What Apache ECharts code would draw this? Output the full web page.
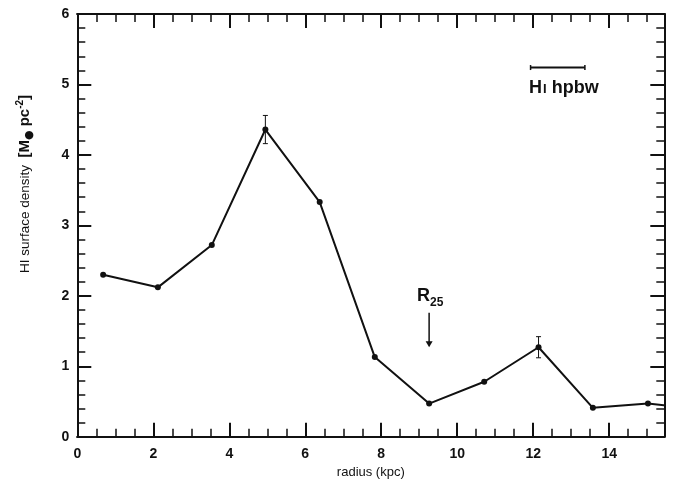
<!DOCTYPE html>
<html>
<head>
<meta charset="utf-8">
<script src="https://cdn.jsdelivr.net/npm/echarts@6/dist/echarts.min.js"></script>
<style>
  html, body { margin: 0; padding: 0; background: #fff; }
  #chart { width: 675px; height: 481px; }
</style>
</head>
<body>
<div id="chart"></div>
<script>
// HI surface density profile against galactocentric radius
const radius  = [0.68, 2.12, 3.54, 4.95, 6.38, 7.83, 9.26, 10.71, 12.14, 13.57, 15.02, 16.45];
const density = [2.30, 2.12, 2.72, 4.36, 3.33, 1.13, 0.47, 0.78, 1.27, 0.41, 0.47, 0.39];

// error bars: [radius, density, half-width]
const errorBars = [[4.95, 4.36, 0.20], [12.14, 1.27, 0.15]];

// beam width bar: [start radius, end radius, level]
const beamBar = [[11.93, 13.36, 5.24]];
// R25 marker: [radius, arrow top, arrow tip]
const r25Marker = [[9.26, 1.76, 1.27]];

const xTicks = [0, 2, 4, 6, 8, 10, 12, 14];
const yTicks = [0, 1, 2, 3, 4, 5, 6];

const X_MAX = 15.45, Y_MAX = 6;
const INK = '#111';
const SANS = 'Liberation Sans, Arial, sans-serif';
const labelFont = { color: INK, fontFamily: SANS, fontWeight: 'bold', fontSize: 14 };

function xAxisDef(position, interval, tickLen, major) {
  return {
    type: 'value', position: position, min: 0, max: X_MAX, interval: interval,
    axisLine: { show: true, onZero: false, lineStyle: { color: INK, width: 2 } },
    axisTick: { show: true, inside: true, length: tickLen, lineStyle: { color: INK, width: major ? 2 : 1.5 } },
    axisLabel: (position === 'bottom' && major) ? Object.assign({
      show: true, margin: 10, showMaxLabel: false,
      formatter: v => xTicks.indexOf(v) >= 0 ? String(v) : ''
    }, labelFont) : { show: false },
    splitLine: { show: false },
    name: (position === 'bottom' && major) ? 'radius (kpc)' : '',
    nameLocation: 'middle', nameGap: 21,
    nameTextStyle: { color: INK, fontFamily: SANS, fontSize: 13 }
  };
}

function yAxisDef(position, showLabel) {
  return {
    type: 'value', position: position, min: 0, max: Y_MAX, interval: 1,
    axisLine: { show: true, onZero: false, lineStyle: { color: INK, width: 2 } },
    axisTick: { show: true, inside: true, length: 14, lineStyle: { color: INK, width: 2 } },
    minorTick: { show: true, splitNumber: 5, length: 8, lineStyle: { color: INK, width: 1.5 } },
    axisLabel: showLabel ? Object.assign({
      show: true, margin: 8,
      formatter: v => yTicks.indexOf(v) >= 0 ? String(v) : ''
    }, labelFont) : { show: false },
    splitLine: { show: false }
  };
}

const chart = echarts.init(document.getElementById('chart'), null, { renderer: 'canvas' });

chart.setOption({
  animation: false,
  backgroundColor: '#fff',
  grid: { left: 77.3, right: 10.7, top: 14, bottom: 44.3, containLabel: false, outerBoundsMode: 'none' },
  xAxis: [
    xAxisDef('bottom', 2, 14, true),
    xAxisDef('bottom', 0.5, 8, false),
    xAxisDef('top', 2, 14, true),
    xAxisDef('top', 0.5, 8, false)
  ],
  yAxis: [
    yAxisDef('left', true),
    yAxisDef('right', false)
  ],
  graphic: [{
    type: 'text',
    x: 25, y: 184,
    rotation: Math.PI / 2,
    style: {
      text: '{n|HI surface density  }{b|[M}{s|●}{b| pc}{p|-2}{b|]}',
      align: 'center', verticalAlign: 'middle',
      fill: INK,
      rich: {
        n: { fontFamily: SANS, fontSize: 13.5, fill: INK, lineHeight: 20, verticalAlign: 'middle' },
        b: { fontFamily: SANS, fontSize: 15, fontWeight: 'bold', fill: INK, lineHeight: 20, verticalAlign: 'middle' },
        s: { fontFamily: 'DejaVu Sans, sans-serif', fontSize: 11, fill: INK, lineHeight: 20, verticalAlign: 'bottom' },
        p: { fontFamily: SANS, fontSize: 10, fontWeight: 'bold', fill: INK, lineHeight: 20, verticalAlign: 'top' }
      }
    }
  }],
  series: [
    {
      type: 'line',
      xAxisIndex: 0, yAxisIndex: 0,
      data: radius.map((r, i) => [r, density[i]]),
      symbol: 'circle', symbolSize: 6,
      itemStyle: { color: INK },
      lineStyle: { color: INK, width: 2 },
      clip: true,
      z: 3
    },
    {
      type: 'custom',
      xAxisIndex: 0, yAxisIndex: 0,
      data: errorBars,
      z: 4,
      renderItem: function (params, api) {
        const x = api.value(0), y = api.value(1), e = api.value(2);
        const top = api.coord([x, y + e]);
        const bot = api.coord([x, y - e]);
        const cap = 2.5;
        const st = { stroke: INK, lineWidth: 1 };
        return {
          type: 'group',
          children: [
            { type: 'line', shape: { x1: top[0], y1: top[1], x2: bot[0], y2: bot[1] }, style: st },
            { type: 'line', shape: { x1: top[0] - cap, y1: top[1], x2: top[0] + cap, y2: top[1] }, style: st },
            { type: 'line', shape: { x1: bot[0] - cap, y1: bot[1], x2: bot[0] + cap, y2: bot[1] }, style: st }
          ]
        };
      }
    },
    {
      type: 'custom',
      xAxisIndex: 0, yAxisIndex: 0,
      data: beamBar,
      z: 4,
      renderItem: function (params, api) {
        const a = api.coord([api.value(0), api.value(2)]);
        const b = api.coord([api.value(1), api.value(2)]);
        const st = { stroke: INK, lineWidth: 2 };
        return {
          type: 'group',
          children: [
            { type: 'line', shape: { x1: a[0], y1: a[1], x2: b[0], y2: b[1] }, style: st },
            { type: 'line', shape: { x1: a[0], y1: a[1] - 2.5, x2: a[0], y2: a[1] + 2.5 }, style: { stroke: INK, lineWidth: 1.5 } },
            { type: 'line', shape: { x1: b[0], y1: b[1] - 2.5, x2: b[0], y2: b[1] + 2.5 }, style: { stroke: INK, lineWidth: 1.5 } },
            {
              type: 'text',
              x: a[0] - 1.5, y: a[1] + 10,
              style: {
                text: '{h|H}{i|I}{h| hpbw}',
                align: 'left', verticalAlign: 'top',
                rich: {
                  h: { fontFamily: SANS, fontWeight: 'bold', fontSize: 18, fill: INK, lineHeight: 19, verticalAlign: 'bottom' },
                  i: { fontFamily: SANS, fontWeight: 'bold', fontSize: 13, fill: INK, lineHeight: 19, verticalAlign: 'bottom', padding: [0, 0, 1, 1] }
                }
              }
            }
          ]
        };
      }
    },
    {
      type: 'custom',
      xAxisIndex: 0, yAxisIndex: 0,
      data: r25Marker,
      z: 4,
      renderItem: function (params, api) {
        const top = api.coord([api.value(0), api.value(1)]);
        const tip = api.coord([api.value(0), api.value(2)]);
        return {
          type: 'group',
          children: [
            { type: 'line', shape: { x1: top[0], y1: top[1], x2: tip[0], y2: tip[1] - 4 }, style: { stroke: INK, lineWidth: 1.5 } },
            { type: 'polygon', shape: { points: [[tip[0] - 3.5, tip[1] - 6], [tip[0] + 3.5, tip[1] - 6], [tip[0], tip[1]]] }, style: { fill: INK } },
            {
              type: 'text',
              x: top[0] - 12, y: top[1] - 4,
              style: {
                text: '{r|R}{s|25}',
                align: 'left', verticalAlign: 'bottom',
                rich: {
                  r: { fontFamily: SANS, fontWeight: 'bold', fontSize: 18, fill: INK, lineHeight: 22, verticalAlign: 'top' },
                  s: { fontFamily: SANS, fontWeight: 'bold', fontSize: 12, fill: INK, lineHeight: 22, verticalAlign: 'bottom' }
                }
              }
            }
          ]
        };
      }
    }
  ]
});
</script>
</body>
</html>
